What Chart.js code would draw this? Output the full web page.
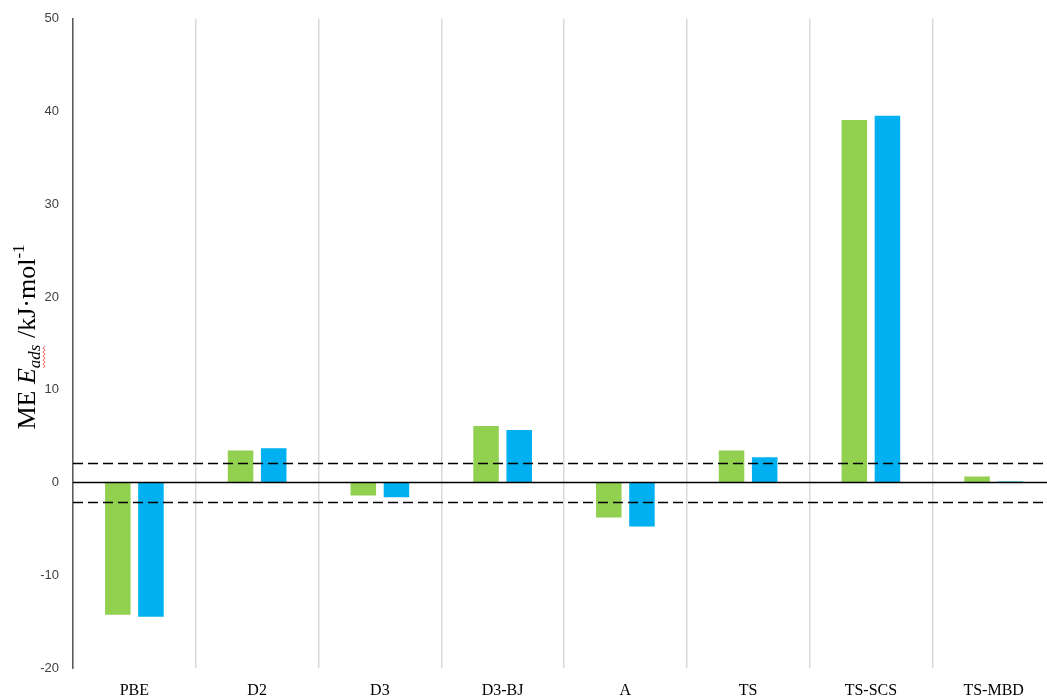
<!DOCTYPE html>
<html>
<head>
<meta charset="utf-8">
<script src="https://cdn.jsdelivr.net/npm/chart.js@4.4.1/dist/chart.umd.min.js"></script>
<style>
html,body{margin:0;padding:0;background:#fff;overflow:hidden;width:1047px;height:698px;}
canvas{display:block;margin-top:-3px;}
</style>
</head>
<body>
<canvas id="c" width="1062" height="701" style="width:1062px;height:701px"></canvas>
<script>
const categories = ['PBE','D2','D3','D3-BJ','A','TS','TS-SCS','TS-MBD'];
const seriesGreen = [-14.26, 3.45, -1.4, 6.1, -3.77, 3.45, 39.1, 0.65];
const seriesBlue  = [-14.48, 3.7, -1.6, 5.65, -4.74, 2.73, 39.55, 0.1];
const thresholds = [2.1, -2.1];
const yTicks = [-20,-10,0,10,20,30,40,50];

const refLines = {
  id:'refLines',
  afterDatasetsDraw(chart){
    const {ctx, chartArea:a, scales:{y}} = chart;
    ctx.save();
    ctx.strokeStyle = '#000';
    ctx.lineWidth = 1.3;
    ctx.setLineDash([10,5]);
    thresholds.forEach(v=>{
      const py = Math.round(y.getPixelForValue(v))+0.5;
      ctx.beginPath(); ctx.moveTo(a.left, py); ctx.lineTo(a.right, py); ctx.stroke();
    });
    ctx.setLineDash([]);
    ctx.lineWidth = 1.5;
    const pz = y.getPixelForValue(0);
    ctx.beginPath(); ctx.moveTo(a.left, pz); ctx.lineTo(a.right, pz); ctx.stroke();
    ctx.restore();
  }
};

const yTitle = {
  id:'yTitle',
  afterDraw(chart){
    const ctx = chart.ctx;
    ctx.save();
    ctx.translate(35, 340);
    ctx.rotate(-Math.PI/2);
    ctx.fillStyle = '#000';
    ctx.textBaseline = 'alphabetic';
    const parts = [
      {t:'ME ', f:'26px "Liberation Serif"', dy:0},
      {t:'E', f:'italic 26px "Liberation Serif"', dy:0},
      {t:'ads', f:'italic 17px "Liberation Serif"', dy:5, wavy:true},
      {t:' /kJ·mol', f:'26px "Liberation Serif"', dy:0},
      {t:'-1', f:'17px "Liberation Serif"', dy:-11}
    ];
    let w = 0;
    parts.forEach(p=>{ctx.font=p.f; p.w=ctx.measureText(p.t).width; w+=p.w;});
    let x = -w/2;
    parts.forEach(p=>{
      ctx.font = p.f;
      ctx.fillText(p.t, x, p.dy);
      if (p.wavy){
        ctx.strokeStyle = '#e05050';
        ctx.lineWidth = 1;
        ctx.beginPath();
        for(let i=0;i<=p.w;i+=2){ ctx.lineTo(x+i, p.dy+4+((i/2)%2?1:-1)); }
        ctx.stroke();
      }
      x += p.w;
    });
    ctx.restore();
  }
};

new Chart(document.getElementById('c'), {
  type:'bar',
  data:{
    labels: categories,
    datasets:[
      {label:'green', data: seriesGreen, backgroundColor:'#92D050', borderWidth:0},
      {label:'blue', data: seriesBlue, backgroundColor:'#00B0F0', borderWidth:0}
    ]
  },
  options:{
    responsive:false,
    animation:false,
    categoryPercentage:0.54,
    barPercentage:0.77,
    layout:{padding:{top:15, right:7, left:0, bottom:0}},
    plugins:{legend:{display:false}, tooltip:{enabled:false}},
    scales:{
      x:{
        grid:{offset:true, color:'#d9d9d9', lineWidth:1.5, drawTicks:false},
        border:{display:false},
        ticks:{padding:13, color:'#000', font:{family:'"Liberation Serif"', size:16}},
        afterFit(s){ s.height = 30; }
      },
      y:{
        min:-20, max:50,
        afterBuildTicks(s){ s.ticks = yTicks.map(v=>({value:v})); },
        grid:{display:false, drawTicks:false},
        border:{display:true, color:'#595959', width:1.5},
        ticks:{padding:14, color:'#404040', font:{family:'"Liberation Sans"', size:13}},
        afterFit(s){ s.width = 73; }
      }
    }
  },
  plugins:[refLines, yTitle]
});
</script>
</body>
</html>
